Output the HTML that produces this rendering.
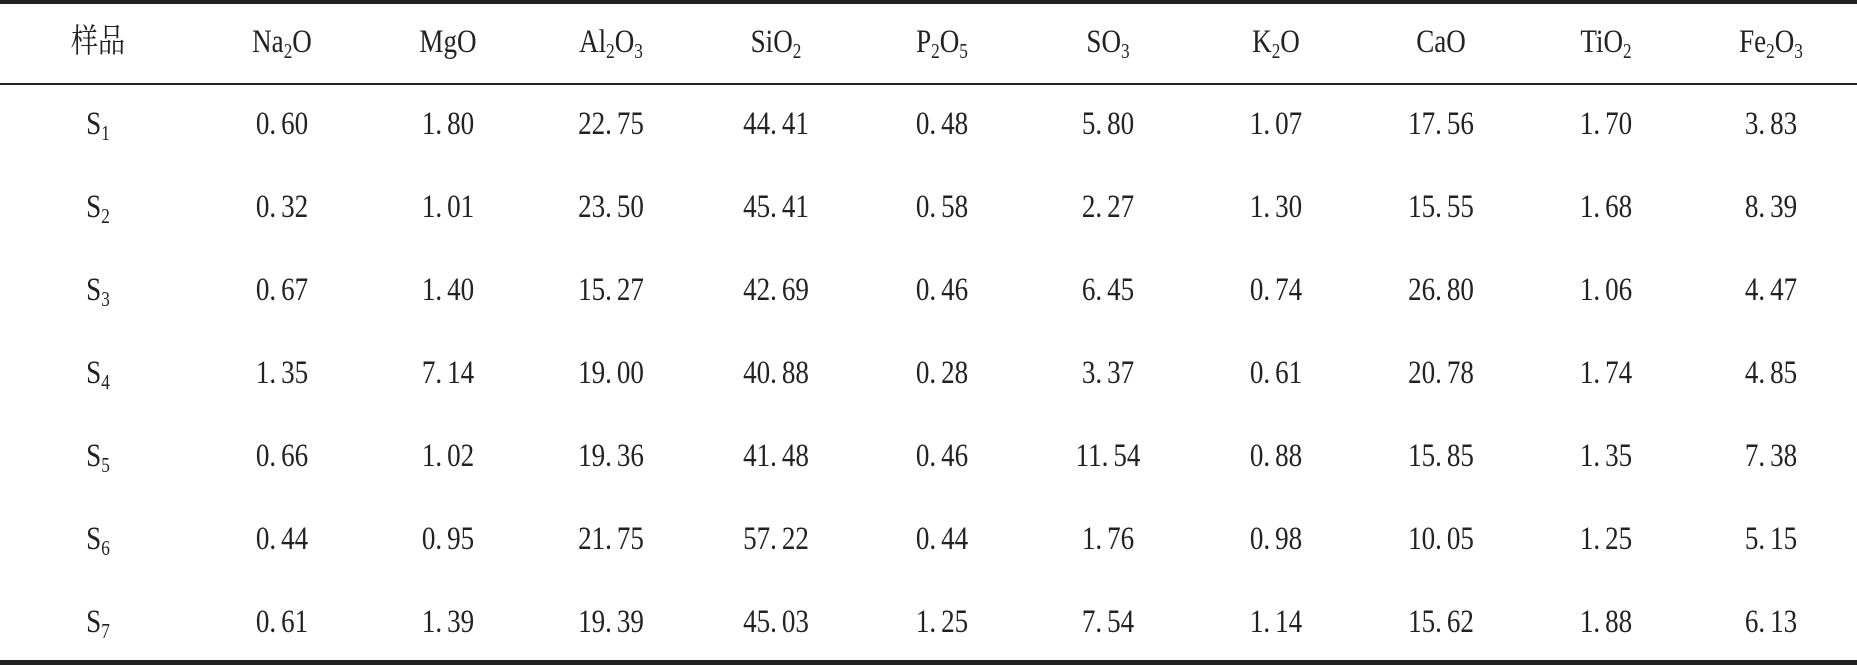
<!DOCTYPE html>
<html><head><meta charset="utf-8">
<style>
html,body{margin:0;padding:0;background:#fff;}
#wrap{position:relative;width:1857px;height:665px;overflow:hidden;font-family:"Liberation Serif","Noto Serif CJK SC",serif;color:#222;}
.rule{position:absolute;left:0;width:1857px;background:#222;}
.cell{position:absolute;width:200px;margin-left:-100px;text-align:center;font-size:33px;line-height:40px;transform:scaleX(0.82);white-space:nowrap;}
.cell sub{font-size:21px;vertical-align:-6px;line-height:0;}
.dot{margin-right:6px;}
</style></head>
<body>
<div id="wrap">
  <div class="rule" style="top:0;height:4px"></div>
  <div class="rule" style="top:83px;height:2px"></div>
  <div class="rule" style="top:660px;height:5px"></div>
</div>
<script>
const headers=['样品','Na<sub>2</sub>O','MgO','Al<sub>2</sub>O<sub>3</sub>','SiO<sub>2</sub>','P<sub>2</sub>O<sub>5</sub>','SO<sub>3</sub>','K<sub>2</sub>O','CaO','TiO<sub>2</sub>','Fe<sub>2</sub>O<sub>3</sub>'];
const samples=['1','2','3','4','5','6','7'];
const values=[
['0.60','1.80','22.75','44.41','0.48','5.80','1.07','17.56','1.70','3.83'],
['0.32','1.01','23.50','45.41','0.58','2.27','1.30','15.55','1.68','8.39'],
['0.67','1.40','15.27','42.69','0.46','6.45','0.74','26.80','1.06','4.47'],
['1.35','7.14','19.00','40.88','0.28','3.37','0.61','20.78','1.74','4.85'],
['0.66','1.02','19.36','41.48','0.46','11.54','0.88','15.85','1.35','7.38'],
['0.44','0.95','21.75','57.22','0.44','1.76','0.98','10.05','1.25','5.15'],
['0.61','1.39','19.39','45.03','1.25','7.54','1.14','15.62','1.88','6.13']];
const colX=[98,282,448,611,776,942,1108,1276,1441,1606,1771];
const headerY=42, rowY0=124, rowStep=83;
const wrap=document.getElementById('wrap');
function put(html,x,y,name){
  const d=document.createElement('div');
  d.className='cell';
  d.style.left=x+'px';d.style.top=(y-20)+'px';
  d.innerHTML=html;
  
  
  wrap.appendChild(d);
}
headers.forEach((h,i)=>put(h,colX[i],headerY,'header-'+i));
samples.forEach((s,r)=>{
  const y=rowY0+r*rowStep;
  put('S<sub>'+s+'</sub>',colX[0],y,'sample-s'+s);
  values[r].forEach((v,c)=>{
    put(v.replace('.','<span class="dot">.</span>'),colX[c+1],y,'value-s'+s+'-col'+(c+1));
  });
});
</script>
</body></html>
